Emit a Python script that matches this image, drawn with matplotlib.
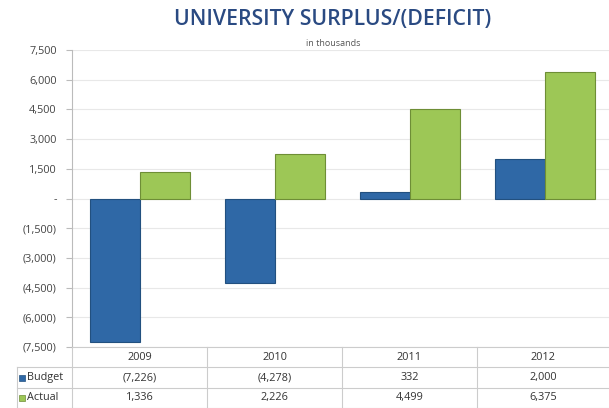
import matplotlib
matplotlib.use("Agg")
import matplotlib.pyplot as plt
from matplotlib.patches import Rectangle
from matplotlib.lines import Line2D

plt.rcParams['font.family'] = ['Open Sans', 'DejaVu Sans']

years = ["2009", "2010", "2011", "2012"]
budget = [-7226, -4278, 332, 2000]
actual = [1336, 2226, 4499, 6375]
yticks = [-7500, -6000, -4500, -3000, -1500, 0, 1500, 3000, 4500, 6000, 7500]
series_names = ["Budget", "Actual"]

BLUE = "#2f68a6"
BLUE_EDGE = "#22507f"
GREEN = "#9dc756"
GREEN_EDGE = "#6e8e36"
GRID = "#e8e8e8"
TXT = "#444444"

W, H = 609, 408
fig = plt.figure(figsize=(W / 100, H / 100), dpi=100)

def fx(px):
    return px / W

def fy(py):
    return 1 - py / H

ax_l, ax_r, ax_t, ax_b = 72, 609, 50, 347
ax = fig.add_axes([fx(ax_l), fy(ax_b), fx(ax_r - ax_l), (ax_b - ax_t) / H])

x = list(range(len(years)))
bw = 0.37
ax.bar([i - bw / 2 for i in x], budget, width=bw, color=BLUE, edgecolor=BLUE_EDGE, linewidth=0.8, zorder=3)
ax.bar([i + bw / 2 for i in x], actual, width=bw, color=GREEN, edgecolor=GREEN_EDGE, linewidth=0.8, zorder=3)

ax.set_xlim(-0.504, 3.474)
ax.set_ylim(-7500, 7500)
ax.set_yticks(yticks)

def fmt(v):
    if v == 0:
        return "-"
    if v < 0:
        return "({:,})".format(-v)
    return "{:,}".format(v)

ax.set_yticklabels([fmt(v) for v in yticks], fontsize=7.8, color=TXT)
ax.tick_params(axis='y', length=4, color="#bbbbbb", pad=7)
ax.set_xticks([])
ax.grid(axis='y', color=GRID, linewidth=0.8, zorder=0)
ax.set_axisbelow(True)
for s in ["top", "right", "bottom"]:
    ax.spines[s].set_visible(False)
ax.spines["left"].set_color("#bbbbbb")
ax.spines["left"].set_linewidth(0.8)

# Title
fig.text(fx(333), fy(20), "UNIVERSITY SURPLUS/(DEFICIT)", ha="center", va="center",
         fontsize=15.3, color="#2a4a82", fontweight="semibold")
fig.text(fx(333), fy(43), "in thousands", ha="center", va="center", fontsize=6.5, color="#555555")

# Data table below the axes
LINE = "#cccccc"
col_edges = [ax_l + 135 * k for k in range(5)]
col_edges[-1] = 609
row_lines = [347, 367, 388, 407.5]
label_left = 17

def hline(y, x0, x1):
    fig.add_artist(Line2D([fx(x0), fx(x1)], [fy(y), fy(y)], color=LINE, linewidth=0.8))

def vline(xp, y0, y1):
    fig.add_artist(Line2D([fx(xp), fx(xp)], [fy(y0), fy(y1)], color=LINE, linewidth=0.8))

hline(row_lines[0], ax_l, 609)
for y in row_lines[1:]:
    hline(y, label_left, 609)
for xp in col_edges[:-1]:
    vline(xp, row_lines[0], row_lines[-1])
vline(label_left, row_lines[1], row_lines[-1])

row_centers = [(row_lines[i] + row_lines[i + 1]) / 2 for i in range(3)]
for i, yr in enumerate(years):
    cx = (col_edges[i] + col_edges[i + 1]) / 2
    fig.text(fx(cx), fy(row_centers[0]), yr, ha="center", va="center", fontsize=7.8, color="#333333")
    fig.text(fx(cx), fy(row_centers[1]), fmt(budget[i]), ha="center", va="center", fontsize=7.8, color="#333333")
    fig.text(fx(cx), fy(row_centers[2]), fmt(actual[i]), ha="center", va="center", fontsize=7.8, color="#333333")

for name, col, edge, yc in [(series_names[0], BLUE, BLUE_EDGE, row_centers[1]),
                            (series_names[1], GREEN, GREEN_EDGE, row_centers[2])]:
    fig.add_artist(Rectangle((fx(19), fy(yc + 3)), fx(6), 6 / H, facecolor=col, edgecolor=edge, linewidth=0.5))
    fig.text(fx(27), fy(yc), name, ha="left", va="center", fontsize=7.8, color="#333333")

fig.savefig("out.png", dpi=100)
